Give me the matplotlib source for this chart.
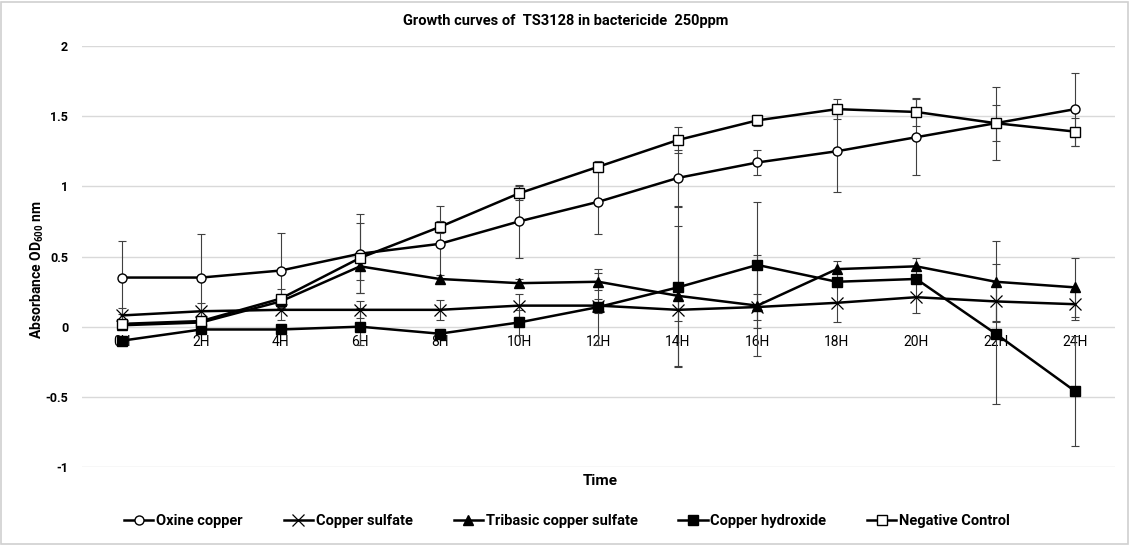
import matplotlib
matplotlib.use("Agg")
import matplotlib.pyplot as plt
from matplotlib.patches import Rectangle

# data
times = ["0H", "2H", "4H", "6H", "8H", "10H", "12H", "14H", "16H", "18H", "20H", "22H", "24H"]

oxine = [0.35, 0.35, 0.40, 0.52, 0.59, 0.75, 0.89, 1.06, 1.17, 1.25, 1.35, 1.45, 1.55]
oxine_err = [0.26, 0.31, 0.27, 0.28, 0.27, 0.26, 0.23, 0.20, 0.09, 0.29, 0.27, 0.26, 0.26]

sulfate = [0.08, 0.11, 0.12, 0.12, 0.12, 0.15, 0.15, 0.12, 0.14, 0.17, 0.21, 0.18, 0.16]
sulfate_err = [0.05, 0.06, 0.07, 0.06, 0.07, 0.08, 0.05, 0.08, 0.09, 0.14, 0.11, 0.14, 0.11]

tribasic = [0.01, 0.03, 0.18, 0.43, 0.34, 0.31, 0.32, 0.22, 0.15, 0.41, 0.43, 0.32, 0.28]
tribasic_err = [0.02, 0.02, 0.04, 0.10, 0.03, 0.03, 0.06, 0.50, 0.36, 0.06, 0.06, 0.29, 0.21]

hydroxide = [-0.10, -0.02, -0.02, 0.00, -0.05, 0.03, 0.14, 0.28, 0.44, 0.32, 0.34, -0.05, -0.46]
hydroxide_err = [0.03, 0.02, 0.02, 0.13, 0.03, 0.09, 0.27, 0.57, 0.45, 0.03, 0.03, 0.50, 0.39]

control = [0.02, 0.04, 0.20, 0.49, 0.71, 0.95, 1.14, 1.33, 1.47, 1.55, 1.53, 1.45, 1.39]
control_err = [0.02, 0.03, 0.07, 0.25, 0.04, 0.05, 0.04, 0.09, 0.04, 0.07, 0.10, 0.13, 0.10]

labels = ["Oxine copper", "Copper sulfate", "Tribasic copper sulfate", "Copper hydroxide", "Negative Control"]

plt.rcParams["font.family"] = ["Roboto", "DejaVu Sans"]

fig = plt.figure(figsize=(11.3, 5.45), dpi=100)
ax = fig.add_axes([0.0726, 0.1431, 0.914, 0.7725])
fig.patches.append(Rectangle((0.001, 0.002), 0.997, 0.995, transform=fig.transFigure,
                             fill=False, edgecolor="#d0d0d0", linewidth=1.2))

x = list(range(len(times)))
styles = [
    (oxine, oxine_err, dict(marker="o", markerfacecolor="white", markersize=6.5)),
    (sulfate, sulfate_err, dict(marker="x", markersize=8, markeredgewidth=0.9)),
    (tribasic, tribasic_err, dict(marker="^", markerfacecolor="black", markersize=6.5)),
    (hydroxide, hydroxide_err, dict(marker="s", markerfacecolor="black", markersize=6.5)),
    (control, control_err, dict(marker="s", markerfacecolor="white", markersize=6.5)),
]

handles = []
for (vals, errs, mk), lab in zip(styles, labels):
    ax.errorbar(x, vals, yerr=errs, fmt="none", ecolor="#404040", elinewidth=0.8,
                capsize=3, capthick=0.8, zorder=2)
    h, = ax.plot(x, vals, color="black", linewidth=1.8, markeredgecolor="black",
                 label=lab, zorder=3, **mk)
    handles.append(h)

ax.set_xlim(-0.5, len(times) - 0.5)
ax.set_ylim(-1, 2)
ax.set_yticks([-1, -0.5, 0, 0.5, 1, 1.5, 2])
ax.set_yticklabels(["-1", "-0.5", "0", "0.5", "1", "1.5", "2"])
ax.grid(axis="y", color="#d9d9d9", linewidth=1)
ax.set_axisbelow(True)

ax.set_xticks(x)
ax.set_xticklabels(times, fontweight="bold", fontsize=8.5)
ax.spines["bottom"].set_position(("data", 0))
for s in ["top", "right", "left", "bottom"]:
    ax.spines[s].set_visible(False)
ax.tick_params(axis="x", length=0, pad=6)
ax.tick_params(axis="y", length=0, pad=10, labelsize=9)
for t in ax.get_yticklabels():
    t.set_fontweight("bold")

fig.text(0.501, 0.962, "Growth curves of  TS3128 in bactericide  250ppm",
         ha="center", va="center", fontsize=10.5, fontweight="bold")
fig.text(0.531, 0.117, "Time", ha="center", va="center", fontsize=11, fontweight="bold")
fig.text(0.033, 0.505, r"Absorbance OD$_{\mathregular{600}}$ nm", ha="center", va="center",
         rotation=90, fontsize=10, fontweight="bold")

fig.legend(handles=handles, labels=labels, loc="center", bbox_to_anchor=(0.502, 0.044),
           ncol=5, frameon=False, handlelength=2.0, handletextpad=0.2, columnspacing=2.8,
           prop={"weight": "bold", "size": 10.5})

fig.savefig("out.png", dpi=100)
